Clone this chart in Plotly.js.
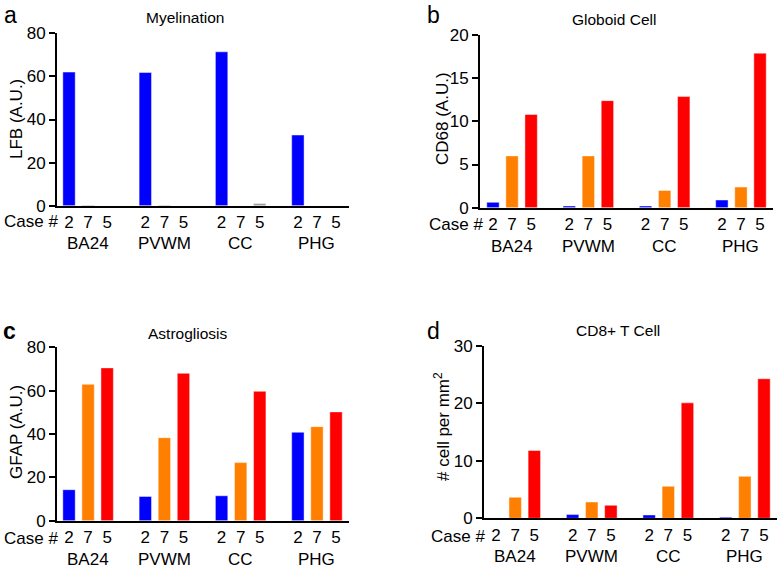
<!DOCTYPE html>
<html>
<head>
<meta charset="utf-8">
<script src="https://cdn.plot.ly/plotly-3.0.1.min.js"></script>
<style>
  html, body { margin: 0; padding: 0; background: #fff; }
  #chart { width: 781px; height: 568px; }
</style>
</head>
<body>
<div id="chart"></div>
<script>
const GROUPS = ["BA24", "PVWM", "CC", "PHG"];
const CASES = ["2", "7", "5"];

// a: Myelination, LFB (A.U.)
const LFB_CASE2 = [62.0, 61.8, 71.4, 32.8];
const LFB_CASE7 = [0.3, 0.3, 0, 0];
const LFB_CASE5 = [0, 0, 1.0, 0];

// b: Globoid Cell, CD68 (A.U.)
const CD68_CASE2 = [0.62, 0.2, 0.2, 0.89];
const CD68_CASE7 = [6.0, 6.0, 2.0, 2.39];
const CD68_CASE5 = [10.8, 12.4, 12.87, 17.9];

// c: Astrogliosis, GFAP (A.U.)
const GFAP_CASE2 = [14.3, 11.2, 11.5, 40.8];
const GFAP_CASE7 = [62.9, 38.3, 26.8, 43.4];
const GFAP_CASE5 = [70.5, 68.0, 59.7, 50.2];

// d: CD8+ T Cell, # cell per mm2
const CD8_CASE2 = [0, 0.64, 0.58, 0.2];
const CD8_CASE7 = [3.66, 2.84, 5.57, 7.3];
const CD8_CASE5 = [11.8, 2.26, 20.1, 24.3];

const BLUE = "#0000ff", ORANGE = "#ff8000", RED = "#ff0000", GREY = "#9a9a9a";
const FONT = "Liberation Sans, Arial, sans-serif";
const W = 781, H = 568;

// pixel helpers for paper coordinates
const px = (x) => x / W;
const py = (y) => 1 - y / H;

// each panel: pixel box of the axes, y range/ticks, text positions
const PANELS = [
    { id: "", letter: "a", bold: false, title: "Myelination", ytitle: "LFB (A.U.)",
      series: [LFB_CASE2, LFB_CASE7, LFB_CASE5], colors: [BLUE, GREY, GREY],
      x0: 57, x1: 349, yTop: 33.3, yBot: 205.7, yMax: 80, dtick: 20, xStart: -0.63,
      letterPos: [10, 15], titlePos: [185, 17], ytitlePos: [16, 119],
      casePos: [31, 221], groupY: 243 },
    { id: "2", letter: "b", bold: false, title: "Globoid Cell", ytitle: "CD68 (A.U.)",
      series: [CD68_CASE2, CD68_CASE7, CD68_CASE5], colors: [BLUE, ORANGE, RED],
      x0: 480, x1: 773, yTop: 35, yBot: 207.7, yMax: 20, dtick: 5, xStart: -0.68,
      letterPos: [433, 15], titlePos: [614, 20], ytitlePos: [442, 119],
      casePos: [456, 225], groupY: 246 },
    { id: "3", letter: "c", bold: true, title: "Astrogliosis", ytitle: "GFAP (A.U.)",
      series: [GFAP_CASE2, GFAP_CASE7, GFAP_CASE5], colors: [BLUE, ORANGE, RED],
      x0: 57, x1: 349, yTop: 347.3, yBot: 520.7, yMax: 80, dtick: 20, xStart: -0.63,
      letterPos: [9, 331], titlePos: [187, 333], ytitlePos: [16, 432],
      casePos: [31, 538], groupY: 559 },
    { id: "4", letter: "d", bold: false, title: "CD8+ T Cell", ytitle: "# cell per mm<sup>2</sup>",
      series: [CD8_CASE2, CD8_CASE7, CD8_CASE5], colors: [BLUE, ORANGE, RED],
      x0: 484, x1: 777, yTop: 346, yBot: 518.3, yMax: 30, dtick: 10, xStart: -0.63,
      letterPos: [433, 331], titlePos: [618, 331], ytitlePos: [442, 427],
      casePos: [458, 536], groupY: 556 },
];

const traces = [];
const annotations = [];
const layout = {
    width: W, height: H,
    margin: { t: 0, b: 0, l: 0, r: 0 },
    paper_bgcolor: "#fff",
    plot_bgcolor: "rgba(0,0,0,0)",
    showlegend: false,
    font: { family: FONT, color: "#000", size: 17 },
    annotations,
};

// bar slots: 4 per group (3 cases + a gap)
const tickvals = [], ticktext = [];
GROUPS.forEach((g, gi) => CASES.forEach((c, ci) => {
    tickvals.push(gi * 4 + ci);
    ticktext.push(c);
}));

function label(text, x, y, size, extra) {
    return Object.assign({
        text, xref: "paper", yref: "paper", x: px(x), y: py(y),
        xanchor: "center", yanchor: "middle", showarrow: false,
        font: { size, family: FONT, color: "#000" },
    }, extra || {});
}

for (const p of PANELS) {
    const xa = "x" + p.id, ya = "y" + p.id;
    p.series.forEach((vals, ci) => {
        traces.push({
            type: "bar",
            x: GROUPS.map((g, gi) => gi * 4 + ci),
            y: vals,
            width: 0.65,
            xaxis: xa, yaxis: ya,
            marker: { color: p.colors[ci], line: { color: "rgba(255,255,255,0.45)", width: 1 } },
            hoverinfo: "skip",
        });
    });

    layout["xaxis" + p.id] = {
        domain: [px(p.x0), px(p.x1)],
        anchor: ya,
        range: [p.xStart, 14.68],
        fixedrange: true,
        showgrid: false, zeroline: false,
        showline: true, linecolor: "#000", linewidth: 2,
        ticks: "",
        tickmode: "array", tickvals, ticktext,
        tickfont: { size: 17, family: FONT },
    };
    layout["yaxis" + p.id] = {
        domain: [py(p.yBot), py(p.yTop)],
        anchor: xa,
        range: [0, p.yMax],
        dtick: p.dtick,
        fixedrange: true,
        showgrid: false, zeroline: false,
        showline: true, linecolor: "#000", linewidth: 2,
        ticks: "outside", ticklen: 6, tickwidth: 2, tickcolor: "#000",
        tickfont: { size: 17, family: FONT },
    };

    annotations.push(
        label(p.bold ? "<b>" + p.letter + "</b>" : p.letter, p.letterPos[0], p.letterPos[1], 23),
        label(p.title, p.titlePos[0], p.titlePos[1], 15.5),
        label(p.ytitle, p.ytitlePos[0], p.ytitlePos[1], 17, { textangle: -90 }),
        label("Case #", p.casePos[0], p.casePos[1], 17),
    );
    GROUPS.forEach((g, gi) => annotations.push(
        label(g, 0, p.groupY, 17, { xref: xa, x: gi * 4 + 1 })
    ));
}

Plotly.newPlot("chart", traces, layout, { responsive: false, displayModeBar: false, staticPlot: true });
</script>
</body>
</html>
